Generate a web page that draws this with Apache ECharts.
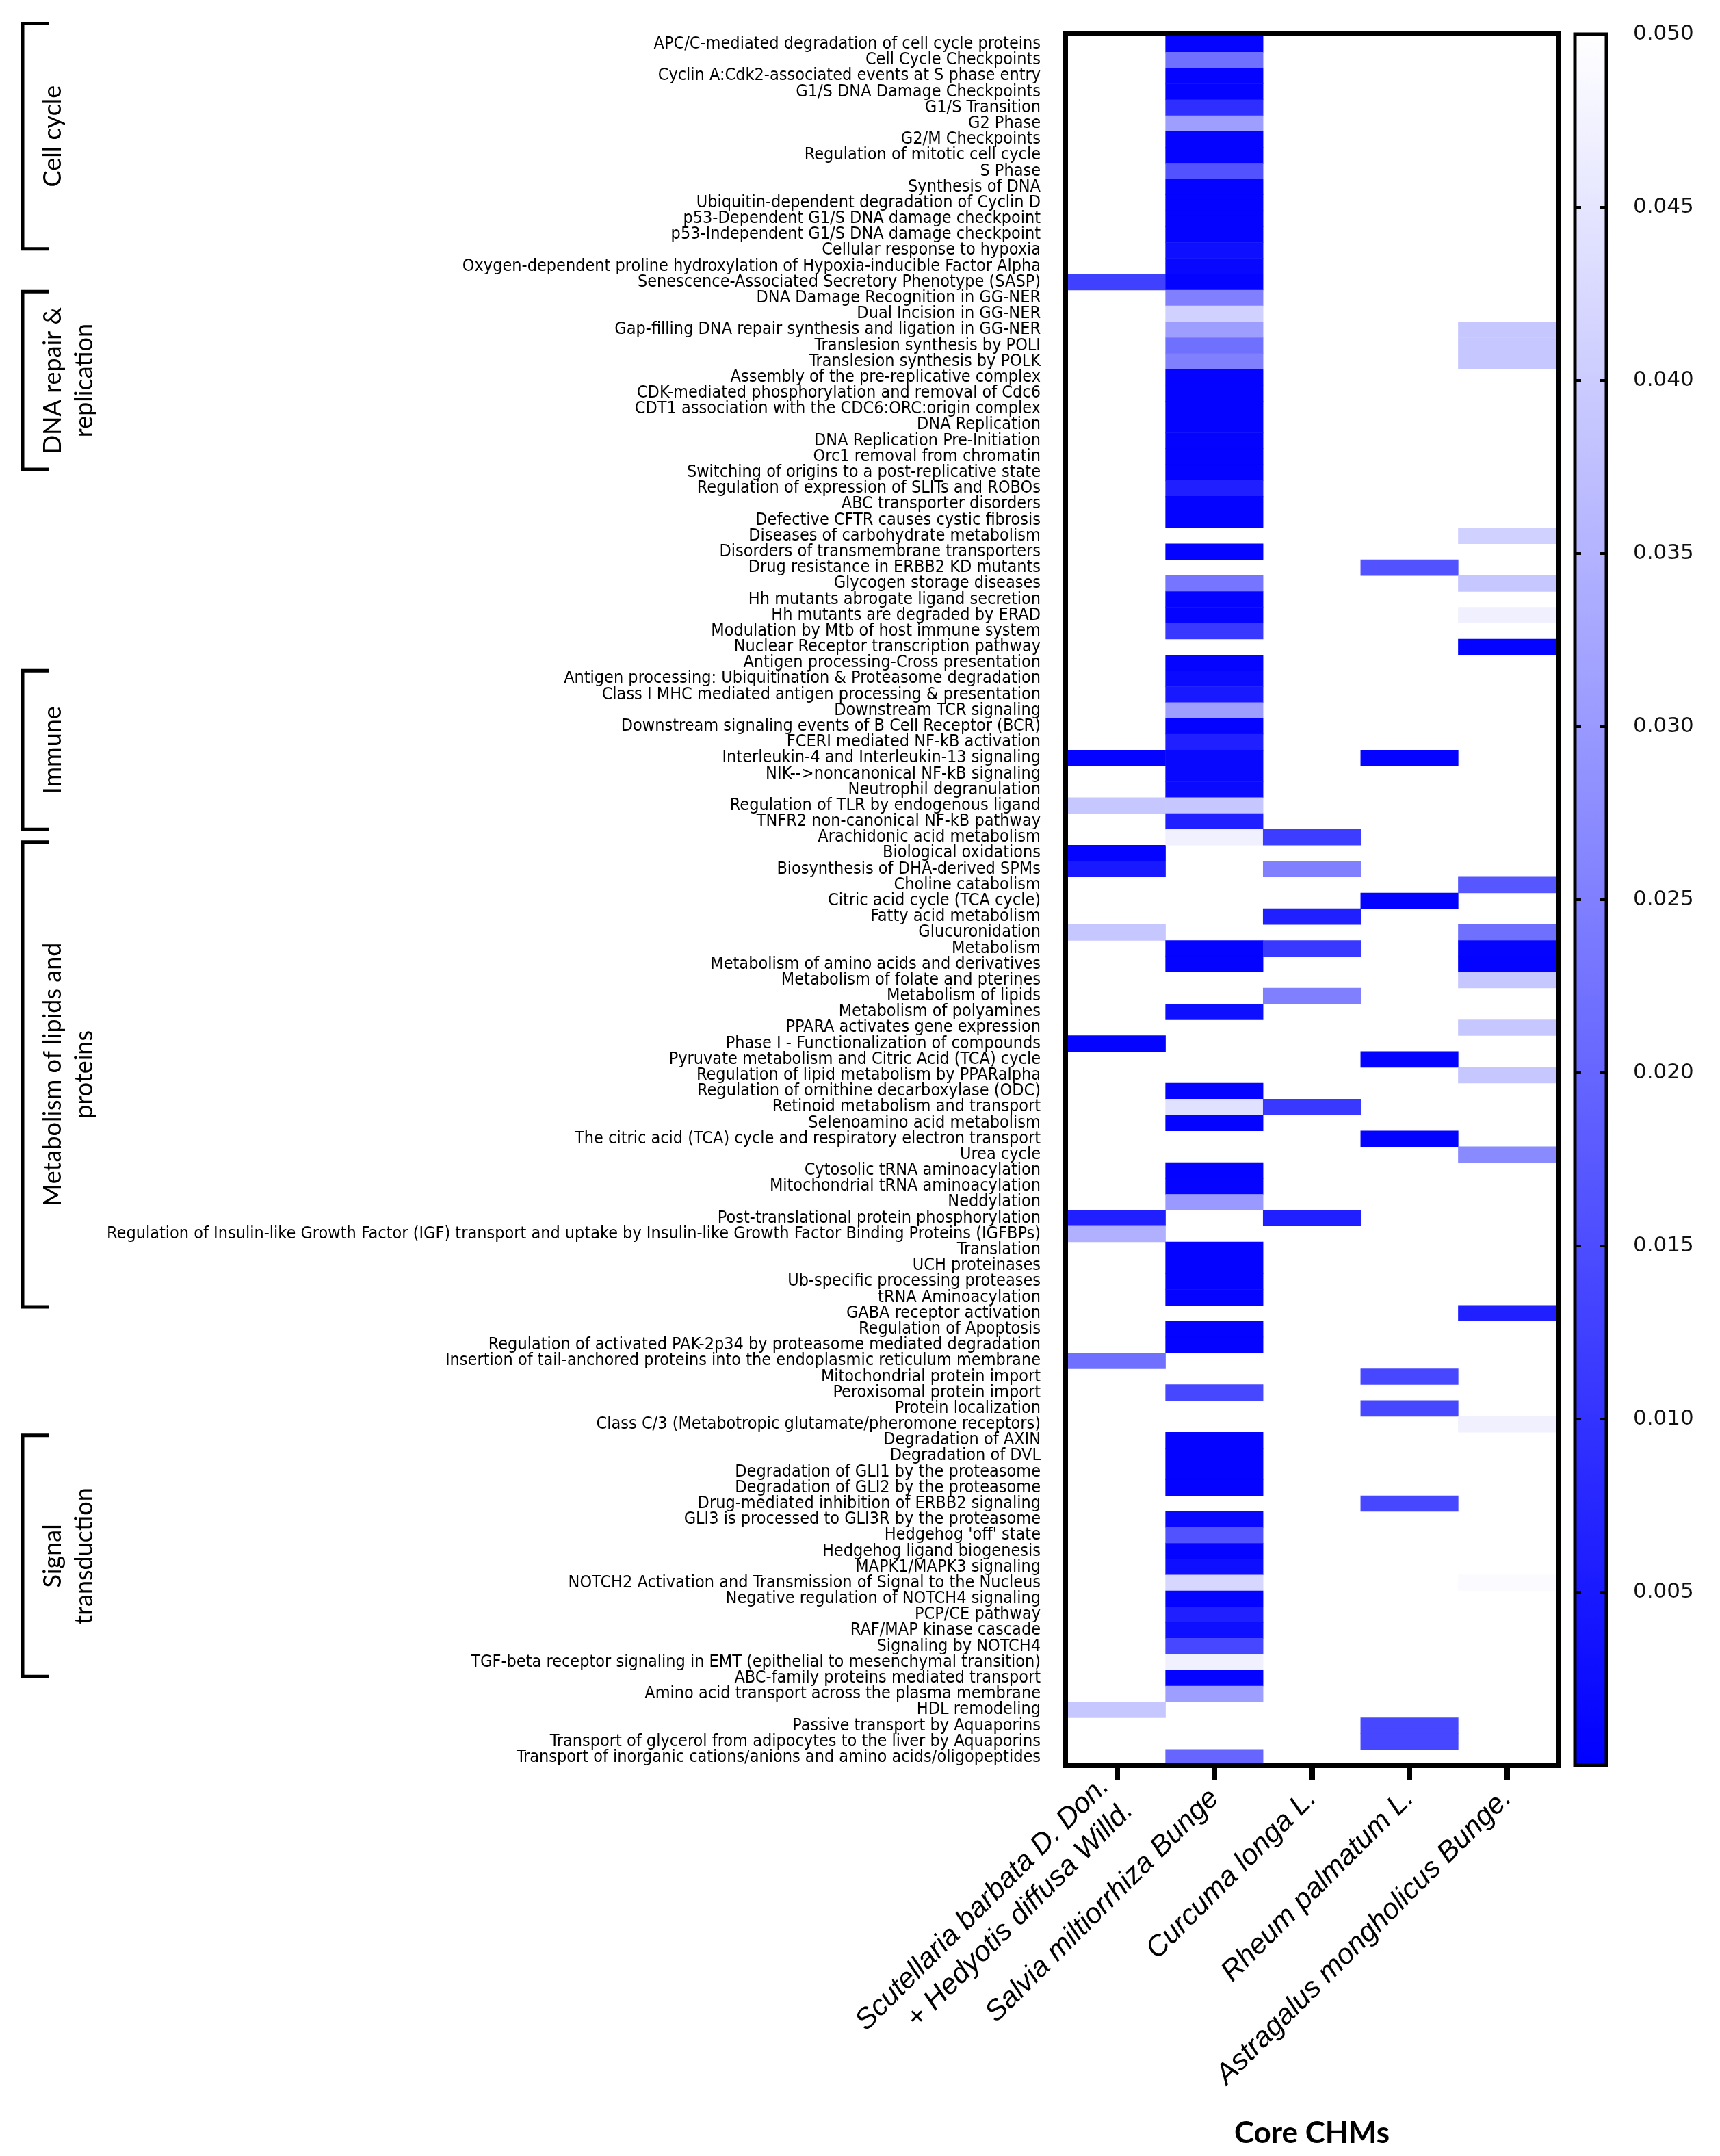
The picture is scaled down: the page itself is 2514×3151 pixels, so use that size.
<!DOCTYPE html>
<html>
<head>
<meta charset="utf-8">
<title>Core CHMs - enriched pathways</title>
<script src="https://cdn.jsdelivr.net/npm/echarts@6/dist/echarts.min.js"></script>
<style>
  html, body { margin: 0; padding: 0; background: #fff; }
  #main { width: 2514px; height: 3151px; }
</style>
</head>
<body>
<div id="main"></div>
<script>
// herbs on the x axis
const herbs = [
  'Scutellaria barbata D. Don.\n+ Hedyotis diffusa Willd.',
  'Salvia miltiorrhiza Bunge',
  'Curcuma longa L.',
  'Rheum palmatum L.',
  'Astragalus mongholicus Bunge.'
];

// pathways, top to bottom
const pathways = [
  'APC/C-mediated degradation of cell cycle proteins',
  'Cell Cycle Checkpoints',
  'Cyclin A:Cdk2-associated events at S phase entry',
  'G1/S DNA Damage Checkpoints',
  'G1/S Transition',
  'G2 Phase',
  'G2/M Checkpoints',
  'Regulation of mitotic cell cycle',
  'S Phase',
  'Synthesis of DNA',
  'Ubiquitin-dependent degradation of Cyclin D',
  'p53-Dependent G1/S DNA damage checkpoint',
  'p53-Independent G1/S DNA damage checkpoint',
  'Cellular response to hypoxia',
  'Oxygen-dependent proline hydroxylation of Hypoxia-inducible Factor Alpha',
  'Senescence-Associated Secretory Phenotype (SASP)',
  'DNA Damage Recognition in GG-NER',
  'Dual Incision in GG-NER',
  'Gap-filling DNA repair synthesis and ligation in GG-NER',
  'Translesion synthesis by POLI',
  'Translesion synthesis by POLK',
  'Assembly of the pre-replicative complex',
  'CDK-mediated phosphorylation and removal of Cdc6',
  'CDT1 association with the CDC6:ORC:origin complex',
  'DNA Replication',
  'DNA Replication Pre-Initiation',
  'Orc1 removal from chromatin',
  'Switching of origins to a post-replicative state',
  'Regulation of expression of SLITs and ROBOs',
  'ABC transporter disorders',
  'Defective CFTR causes cystic fibrosis',
  'Diseases of carbohydrate metabolism',
  'Disorders of transmembrane transporters',
  'Drug resistance in ERBB2 KD mutants',
  'Glycogen storage diseases',
  'Hh mutants abrogate ligand secretion',
  'Hh mutants are degraded by ERAD',
  'Modulation by Mtb of host immune system',
  'Nuclear Receptor transcription pathway',
  'Antigen processing-Cross presentation',
  'Antigen processing: Ubiquitination & Proteasome degradation',
  'Class I MHC mediated antigen processing & presentation',
  'Downstream TCR signaling',
  'Downstream signaling events of B Cell Receptor (BCR)',
  'FCERI mediated NF-kB activation',
  'Interleukin-4 and Interleukin-13 signaling',
  'NIK-->noncanonical NF-kB signaling',
  'Neutrophil degranulation',
  'Regulation of TLR by endogenous ligand',
  'TNFR2 non-canonical NF-kB pathway',
  'Arachidonic acid metabolism',
  'Biological oxidations',
  'Biosynthesis of DHA-derived SPMs',
  'Choline catabolism',
  'Citric acid cycle (TCA cycle)',
  'Fatty acid metabolism',
  'Glucuronidation',
  'Metabolism',
  'Metabolism of amino acids and derivatives',
  'Metabolism of folate and pterines',
  'Metabolism of lipids',
  'Metabolism of polyamines',
  'PPARA activates gene expression',
  'Phase I - Functionalization of compounds',
  'Pyruvate metabolism and Citric Acid (TCA) cycle',
  'Regulation of lipid metabolism by PPARalpha',
  'Regulation of ornithine decarboxylase (ODC)',
  'Retinoid metabolism and transport',
  'Selenoamino acid metabolism',
  'The citric acid (TCA) cycle and respiratory electron transport',
  'Urea cycle',
  'Cytosolic tRNA aminoacylation',
  'Mitochondrial tRNA aminoacylation',
  'Neddylation',
  'Post-translational protein phosphorylation',
  'Regulation of Insulin-like Growth Factor (IGF) transport and uptake by Insulin-like Growth Factor Binding Proteins (IGFBPs)',
  'Translation',
  'UCH proteinases',
  'Ub-specific processing proteases',
  'tRNA Aminoacylation',
  'GABA receptor activation',
  'Regulation of Apoptosis',
  'Regulation of activated PAK-2p34 by proteasome mediated degradation',
  'Insertion of tail-anchored proteins into the endoplasmic reticulum membrane',
  'Mitochondrial protein import',
  'Peroxisomal protein import',
  'Protein localization',
  'Class C/3 (Metabotropic glutamate/pheromone receptors)',
  'Degradation of AXIN',
  'Degradation of DVL',
  'Degradation of GLI1 by the proteasome',
  'Degradation of GLI2 by the proteasome',
  'Drug-mediated inhibition of ERBB2 signaling',
  'GLI3 is processed to GLI3R by the proteasome',
  "Hedgehog 'off' state",
  'Hedgehog ligand biogenesis',
  'MAPK1/MAPK3 signaling',
  'NOTCH2 Activation and Transmission of Signal to the Nucleus',
  'Negative regulation of NOTCH4 signaling',
  'PCP/CE pathway',
  'RAF/MAP kinase cascade',
  'Signaling by NOTCH4',
  'TGF-beta receptor signaling in EMT (epithelial to mesenchymal transition)',
  'ABC-family proteins mediated transport',
  'Amino acid transport across the plasma membrane',
  'HDL remodeling',
  'Passive transport by Aquaporins',
  'Transport of glycerol from adipocytes to the liver by Aquaporins',
  'Transport of inorganic cations/anions and amino acids/oligopeptides'
];

// p values per herb as [pathway index, p]; pathways not listed are blank
const scutHedy = [
  [15, 0.0125], [45, 0.0005], [48, 0.039], [51, 0.0005], [52, 0.005], [56, 0.039],
  [63, 0.0005], [74, 0.006], [75, 0.0345], [83, 0.022], [105, 0.039]
];
const salvia = [
  [0, 0.0008], [1, 0.022], [2, 0.0005], [3, 0.0005], [4, 0.009], [5, 0.031], [6, 0.0005],
  [7, 0.0005], [8, 0.016], [9, 0.0005], [10, 0.0005], [11, 0.0005], [12, 0.0005], [13, 0.003],
  [14, 0.0015], [15, 0.0005], [16, 0.025], [17, 0.041], [18, 0.031], [19, 0.022], [20, 0.025],
  [21, 0.0005], [22, 0.0005], [23, 0.0005], [24, 0.0005], [25, 0.0005], [26, 0.0005], [27, 0.0005],
  [28, 0.006], [29, 0.0005], [30, 0.0005], [32, 0.0005], [34, 0.023], [35, 0.0005], [36, 0.0005],
  [37, 0.011], [39, 0.0008], [40, 0.002], [41, 0.005], [42, 0.031], [43, 0.0005], [44, 0.006],
  [45, 0.0015], [46, 0.0015], [47, 0.002], [48, 0.039], [49, 0.006], [50, 0.047], [57, 0.0005],
  [58, 0.0005], [61, 0.003], [66, 0.0005], [67, 0.044], [68, 0.0005], [71, 0.0005], [72, 0.001],
  [73, 0.030], [76, 0.0005], [77, 0.0005], [78, 0.0005], [79, 0.0005], [81, 0.0005], [82, 0.0005],
  [85, 0.014], [88, 0.0005], [89, 0.0005], [90, 0.0005], [91, 0.0005], [93, 0.0015], [94, 0.016],
  [95, 0.0005], [96, 0.003], [97, 0.042], [98, 0.0005], [99, 0.006], [100, 0.003], [101, 0.014],
  [102, 0.047], [103, 0.0005], [104, 0.031], [108, 0.020]
];
const curcuma = [
  [50, 0.012], [52, 0.025], [55, 0.006], [57, 0.011], [60, 0.025], [67, 0.011], [74, 0.006]
];
const rheum = [
  [33, 0.016], [45, 0.0005], [54, 0.0005], [64, 0.0005], [69, 0.0005], [84, 0.014],
  [86, 0.014], [92, 0.014], [106, 0.014], [107, 0.014]
];
const astragalus = [
  [18, 0.039], [19, 0.039], [20, 0.039], [31, 0.041], [34, 0.039], [36, 0.047], [38, 0.0005],
  [53, 0.017], [56, 0.022], [57, 0.0008], [58, 0.0005], [59, 0.039], [62, 0.039], [65, 0.039],
  [70, 0.027], [80, 0.006], [87, 0.047], [97, 0.049]
];

// pathway groups drawn as brackets on the left (in row units)
const groupNames = ['Cell cycle', 'DNA repair &\nreplication', 'Immune', 'Metabolism of lipids and\nproteins', 'Signal\ntransduction'];
const groupFrom = [-0.8, 16.1, 40.0, 50.8, 88.2];
const groupTo = [13.4, 27.3, 50.0, 80.1, 103.4];

// colour bar range
const pMin = 0;
const pMax = 0.05;
const pStep = 0.005;

const cells = [];
[scutHedy, salvia, curcuma, rheum, astragalus].forEach(function (col, x) {
  col.forEach(function (d) { cells.push([x, d[0], d[1]]); });
});

// heatmap box
const boxLeft = 1561, boxTop = 53, boxWidth = 713, boxHeight = 2527;

const rowFont = '"Liberation Sans Narrow", "Arial Narrow", "DejaVu Sans Condensed", sans-serif';
const chart = echarts.init(document.getElementById('main'));

chart.setOption({
  backgroundColor: '#fff',
  animation: false,
  grid: [
    { left: boxLeft, top: boxTop, width: boxWidth, height: boxHeight, show: false },
    { left: 2302, top: 50, width: 46, height: 2530, show: true, z: 10,
      borderColor: '#000', borderWidth: 5, backgroundColor: 'transparent' }
  ],
  xAxis: [
    {
      type: 'category', gridIndex: 0, data: herbs, position: 'bottom', z: 10,
      axisLine: { show: false },
      axisTick: { show: true, alignWithLabel: true, length: 21, lineStyle: { color: '#000', width: 8 } },
      axisLabel: {
        interval: 0, rotate: 45, margin: 42, fontSize: 42, lineHeight: 50,
        fontStyle: 'italic', fontFamily: '"Liberation Sans", Arial, sans-serif', color: '#000'
      },
      splitLine: { show: false },
      name: 'Core CHMs', nameLocation: 'middle', nameGap: 516,
      nameTextStyle: { fontSize: 44, fontWeight: 'bold', fontFamily: 'Lato, sans-serif', color: '#000' }
    },
    { type: 'value', gridIndex: 1, show: false, min: 0, max: 1 }
  ],
  yAxis: [
    {
      type: 'category', gridIndex: 0, data: pathways, inverse: true,
      axisLine: { show: false }, axisTick: { show: false }, splitLine: { show: false },
      axisLabel: { interval: 0, margin: 40, fontSize: 25, fontFamily: rowFont, color: '#000' }
    },
    {
      type: 'value', gridIndex: 1, position: 'left', min: pMin, max: pMax, interval: pStep, z: 10,
      axisLine: { show: false }, splitLine: { show: false }, axisLabel: { show: false },
      axisTick: { show: true, inside: true, length: 9, lineStyle: { color: '#000', width: 4 } }
    },
    {
      type: 'value', gridIndex: 1, position: 'right', min: pMin, max: pMax, interval: pStep, z: 10,
      axisLine: { show: false }, splitLine: { show: false },
      axisTick: { show: true, inside: true, length: 9, lineStyle: { color: '#000', width: 4 } },
      axisLabel: {
        showMinLabel: false, margin: 39, fontSize: 31, fontFamily: '"DejaVu Sans", sans-serif', color: '#111',
        formatter: function (v) { return v.toFixed(3); }
      }
    }
  ],
  visualMap: {
    type: 'continuous', min: pMin, max: pMax, seriesIndex: 0,
    calculable: false, hoverLink: false, orient: 'vertical',
    left: 2302, top: 50, itemWidth: 46, itemHeight: 2530, padding: 0, z: 1,
    inRange: { color: ['#0000ff', '#ffffff'] }
  },
  series: [{
    type: 'heatmap', xAxisIndex: 0, yAxisIndex: 0, data: cells,
    emphasis: { disabled: true }
  }]
});

// brackets + group names, placed from the y axis scale
const c0 = chart.convertToPixel({ yAxisIndex: 0 }, 0);
const c1 = chart.convertToPixel({ yAxisIndex: 0 }, 1);
const rowH = c1 - c0;
const rowY = function (u) { return c0 - rowH / 2 + u * rowH; };

// thick frame drawn just outside the cells
const graphics = [{
  type: 'rect', z: 100,
  shape: { x: boxLeft - 4, y: boxTop - 4, width: boxWidth + 8, height: boxHeight + 4 },
  style: { stroke: '#000', lineWidth: 8, fill: null }
}];
groupNames.forEach(function (name, i) {
  const y1 = rowY(groupFrom[i]);
  const y2 = rowY(groupTo[i]);
  const nLines = name.split('\n').length;
  graphics.push({
    type: 'polyline', shape: { points: [[72, y1], [33, y1], [33, y2], [72, y2]] },
    style: { stroke: '#000', lineWidth: 5, fill: null }
  });
  graphics.push({
    type: 'text', x: 77 + (nLines - 1) * 23, y: (y1 + y2) / 2, rotation: Math.PI / 2,
    style: {
      text: name, fontSize: 36, fontFamily: 'Lato, sans-serif', fill: '#000', lineHeight: 46,
      textAlign: 'center', textVerticalAlign: 'middle', align: 'center', verticalAlign: 'middle'
    }
  });
});
chart.setOption({ graphic: graphics });
</script>
</body>
</html>
